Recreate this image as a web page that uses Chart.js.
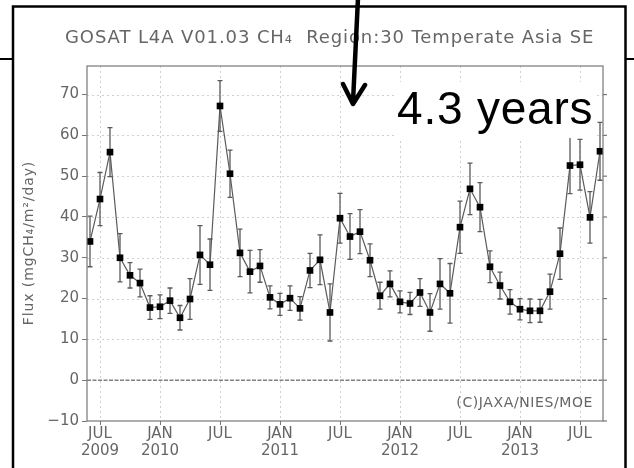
<!DOCTYPE html>
<html>
<head>
<meta charset="utf-8">
<script src="https://cdn.jsdelivr.net/npm/chart.js@4.4.1/dist/chart.umd.min.js"></script>
<style>
  html, body { margin: 0; padding: 0; background: #fff; overflow: hidden; }
  #wrap { position: relative; width: 634px; height: 468px; }
</style>
</head>
<body>
<div id="wrap"><canvas id="c" width="634" height="468"></canvas></div>
<script>
// Monthly CH4 flux estimates, Temperate Asia SE (region 30)
const months = [
  "2009-06","2009-07","2009-08","2009-09","2009-10","2009-11","2009-12",
  "2010-01","2010-02","2010-03","2010-04","2010-05","2010-06","2010-07","2010-08","2010-09","2010-10","2010-11","2010-12",
  "2011-01","2011-02","2011-03","2011-04","2011-05","2011-06","2011-07","2011-08","2011-09","2011-10","2011-11","2011-12",
  "2012-01","2012-02","2012-03","2012-04","2012-05","2012-06","2012-07","2012-08","2012-09","2012-10","2012-11","2012-12",
  "2013-01","2013-02","2013-03","2013-04","2013-05","2013-06","2013-07","2013-08","2013-09"
];
const flux = [
  34.0, 44.4, 55.9, 30.0, 25.7, 23.8, 17.8,
  18.0, 19.5, 15.3, 19.9, 30.7, 28.3, 67.2, 50.6, 31.2, 26.6, 28.0, 20.3,
  18.6, 20.1, 17.6, 26.9, 29.5, 16.6, 39.7, 35.2, 36.4, 29.4, 20.7, 23.6,
  19.2, 18.8, 21.5, 16.6, 23.6, 21.3, 37.5, 46.9, 42.4, 27.8, 23.2, 19.2,
  17.4, 17.0, 17.0, 21.7, 31.0, 52.6, 52.8, 39.9, 56.1
];
const fluxErr = [
  6.2, 6.5, 6.0, 5.9, 3.1, 3.4, 2.9,
  2.9, 3.1, 3.0, 5.0, 7.2, 6.3, 6.2, 5.8, 5.8, 5.2, 4.0, 2.8,
  2.7, 3.0, 2.9, 4.2, 6.1, 7.0, 6.1, 5.6, 5.4, 4.0, 3.3, 3.2,
  2.7, 2.7, 3.4, 4.6, 6.2, 7.3, 6.4, 6.3, 6.0, 3.9, 3.3, 3.0,
  2.6, 2.9, 2.8, 4.3, 6.3, 6.9, 6.2, 6.3, 7.1
];
const xTickMonths = ["2009-07","2010-01","2010-07","2011-01","2011-07","2012-01","2012-07","2013-01","2013-07"];
const xTickLabels = [["JUL","2009"],["JAN","2010"],["JUL",""],["JAN","2011"],["JUL",""],["JAN","2012"],["JUL",""],["JAN","2013"],["JUL",""]];
const yTicks = [-10, 0, 10, 20, 30, 40, 50, 60, 70];

const titleText = "GOSAT L4A V01.03 CH\u2084  Region:30 Temperate Asia SE";
const yTitle = "Flux (mgCH\u2084/m\u00B2/day)";
const creditText = "(C)JAXA/NIES/MOE";
const noteText = "4.3 years";

// months counted from January 2009
function monthIndex(s) {
  const [y, m] = s.split("-").map(Number);
  return (y - 2009) * 12 + (m - 1);
}

const points = months.map((m, i) => ({ x: monthIndex(m), y: flux[i] }));

const FONT = "'DejaVu Sans', sans-serif";
const GREY = "#666";

const decor = {
  id: "decor",
  beforeDatasetsDraw(chart) {
    const { ctx, chartArea: a, scales: { x, y } } = chart;
    ctx.save();
    // dotted grid
    ctx.strokeStyle = "#d0d0d0";
    ctx.lineWidth = 1;
    ctx.setLineDash([2, 3]);
    xTickMonths.forEach(m => {
      const px = Math.round(x.getPixelForValue(monthIndex(m))) + 0.5;
      ctx.beginPath(); ctx.moveTo(px, a.top); ctx.lineTo(px, a.bottom); ctx.stroke();
    });
    yTicks.forEach(v => {
      if (v === 0 || v === -10) return;
      const py = Math.round(y.getPixelForValue(v)) + 0.5;
      ctx.beginPath(); ctx.moveTo(a.left, py); ctx.lineTo(a.right, py); ctx.stroke();
    });
    // zero line
    ctx.strokeStyle = "#808080";
    ctx.lineWidth = 1.5;
    ctx.setLineDash([4, 1.5]);
    const z = y.getPixelForValue(0);
    ctx.beginPath(); ctx.moveTo(a.left, z); ctx.lineTo(a.right, z); ctx.stroke();
    ctx.setLineDash([]);
    // error bars
    const meta = chart.getDatasetMeta(0);
    ctx.strokeStyle = "#5a5a5a";
    ctx.lineWidth = 1.3;
    meta.data.forEach((pt, i) => {
      const top = y.getPixelForValue(flux[i] + fluxErr[i]);
      const bot = y.getPixelForValue(flux[i] - fluxErr[i]);
      ctx.beginPath();
      ctx.moveTo(pt.x, top); ctx.lineTo(pt.x, bot);
      ctx.moveTo(pt.x - 2.5, top); ctx.lineTo(pt.x + 2.5, top);
      ctx.moveTo(pt.x - 2.5, bot); ctx.lineTo(pt.x + 2.5, bot);
      ctx.stroke();
    });
    ctx.restore();
  },
  afterDatasetsDraw(chart) {
    const { ctx, chartArea: a, scales: { y } } = chart;
    ctx.save();
    // plot box
    ctx.strokeStyle = "#777";
    ctx.lineWidth = 1.2;
    ctx.strokeRect(a.left, a.top, a.right - a.left, a.bottom - a.top);
    // right-hand ticks
    yTicks.forEach(v => {
      const py = y.getPixelForValue(v);
      ctx.beginPath(); ctx.moveTo(a.right, py); ctx.lineTo(a.right + 4, py); ctx.stroke();
    });
    // credit line
    ctx.fillStyle = GREY;
    ctx.font = "14px " + FONT;
    ctx.letterSpacing = "0.6px";
    ctx.textAlign = "right";
    ctx.textBaseline = "middle";
    ctx.fillText(creditText, a.right - 10, 403);
    // title
    ctx.font = "18px " + FONT;
    ctx.letterSpacing = "0.9px";
    ctx.textAlign = "left";
    ctx.fillText(titleText, 65, 38);
    // y-axis title
    ctx.save();
    ctx.translate(29, 243);
    ctx.rotate(-Math.PI / 2);
    ctx.textAlign = "center";
    ctx.font = "14px " + FONT;
    ctx.letterSpacing = "0.9px";
    ctx.fillText(yTitle, 0, 0);
    ctx.restore();
    ctx.letterSpacing = "0px";
    // annotation text
    ctx.fillStyle = "#fff";
    ctx.fillRect(396, 82, 200, 56);
    ctx.fillStyle = "#000";
    ctx.font = "46px 'Liberation Sans', Arial, sans-serif";
    ctx.letterSpacing = "0.8px";
    ctx.textAlign = "left";
    ctx.textBaseline = "alphabetic";
    ctx.fillText(noteText, 397, 124);
    ctx.letterSpacing = "0px";
    // slide frame
    ctx.strokeStyle = "#000";
    ctx.lineWidth = 2.5;
    ctx.beginPath();
    ctx.moveTo(13, 470); ctx.lineTo(13, 6.5); ctx.lineTo(625.5, 6.5); ctx.lineTo(625.5, 470);
    ctx.stroke();
    ctx.lineWidth = 2;
    ctx.beginPath();
    ctx.moveTo(0, 59); ctx.lineTo(13, 59);
    ctx.moveTo(625.5, 59); ctx.lineTo(634, 59);
    ctx.stroke();
    // arrow
    ctx.lineWidth = 4.5;
    ctx.lineCap = "round";
    ctx.lineJoin = "round";
    ctx.beginPath();
    ctx.moveTo(358, -2); ctx.lineTo(353, 102);
    ctx.moveTo(343, 84); ctx.lineTo(353, 104); ctx.lineTo(365, 85);
    ctx.stroke();
    ctx.restore();
  }
};

new Chart(document.getElementById("c"), {
  type: "line",
  data: {
    datasets: [{
      data: points,
      borderColor: "#5a5a5a",
      borderWidth: 1.2,
      pointStyle: "rect",
      pointRadius: 4.7,
      pointBackgroundColor: "#000",
      pointBorderWidth: 0,
      tension: 0
    }]
  },
  options: {
    responsive: false,
    devicePixelRatio: 1,
    animation: false,
    layout: { padding: { top: 66, right: 31, left: 0, bottom: 0 } },
    plugins: { legend: { display: false }, tooltip: { enabled: false }, title: { display: false } },
    scales: {
      x: {
        type: "linear",
        min: 4.7,
        max: 56.3,
        afterBuildTicks: s => { s.ticks = xTickMonths.map(m => ({ value: monthIndex(m) })); },
        afterFit: s => { s.height = 47; },
        ticks: {
          autoSkip: false, maxRotation: 0, padding: 1,
          color: GREY, font: { family: FONT, size: 15, lineHeight: 1.13 },
          callback: (v, i) => xTickLabels[i]
        },
        grid: { drawOnChartArea: false, tickLength: 4, color: "#777" },
        border: { display: false }
      },
      y: {
        min: -10,
        max: 77,
        afterBuildTicks: s => { s.ticks = yTicks.map(v => ({ value: v })); },
        afterFit: s => { s.width = 87; },
        ticks: {
          padding: 3, color: GREY, font: { family: FONT, size: 15 },
          callback: v => v < 0 ? "\u2212" + Math.abs(v) : String(v)
        },
        grid: { drawOnChartArea: false, tickLength: 5, color: "#777" },
        border: { display: false }
      }
    }
  },
  plugins: [decor]
});
</script>
</body>
</html>
